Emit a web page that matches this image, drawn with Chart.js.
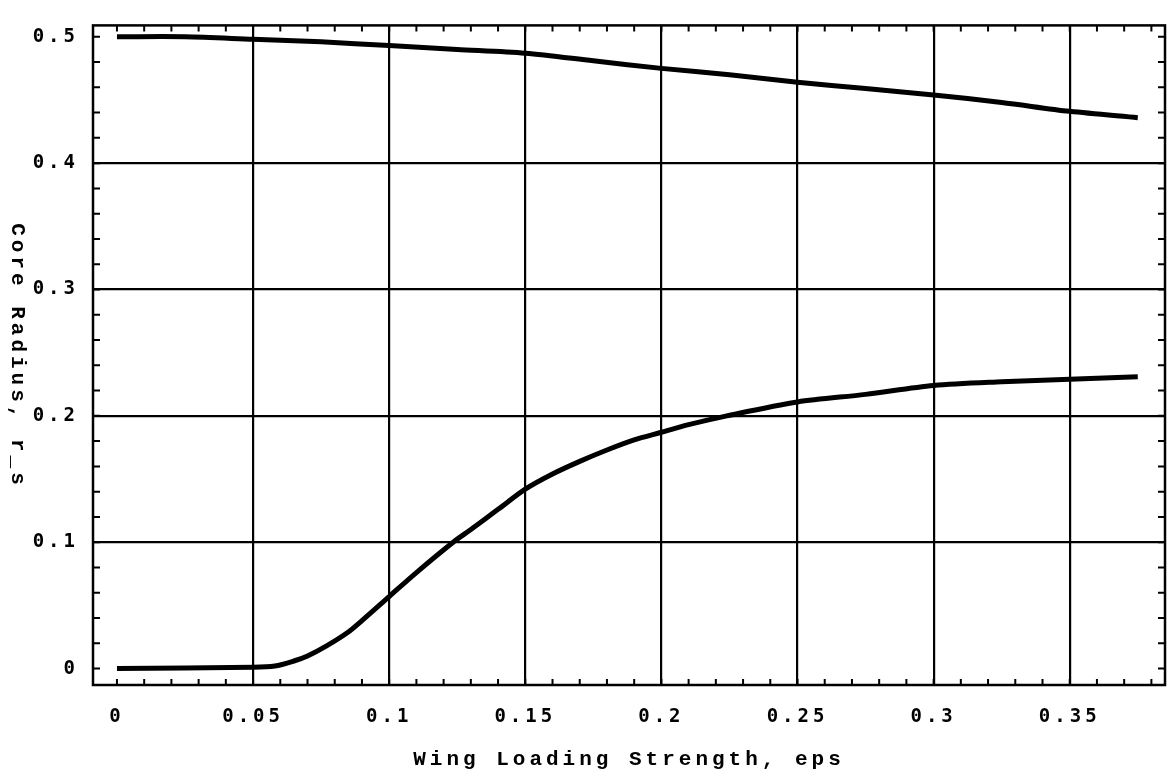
<!DOCTYPE html>
<html>
<head>
<meta charset="utf-8">
<script src="https://cdn.jsdelivr.net/npm/chart.js@4/dist/chart.umd.min.js"></script>
<style>
  html, body { margin: 0; padding: 0; background: #fff; }
  #wrap { width: 1169px; height: 783px; }
</style>
</head>
<body>
<div id="wrap"><canvas id="chart"></canvas></div>
<script>
// values
const upperEps = [0, 0.025, 0.05, 0.075, 0.1, 0.125, 0.15, 0.175, 0.2, 0.225, 0.25, 0.275, 0.3, 0.325, 0.35, 0.375];
const upperRadius = [0.500, 0.500, 0.498, 0.496, 0.493, 0.490, 0.487, 0.481, 0.475, 0.470, 0.464, 0.459, 0.454, 0.448, 0.441, 0.436];

const lowerEps = [0, 0.05, 0.058, 0.065, 0.07, 0.077, 0.085, 0.09, 0.1, 0.11, 0.1235, 0.13, 0.14, 0.15, 0.16, 0.17, 0.18, 0.19, 0.2, 0.21, 0.224, 0.25, 0.275, 0.3, 0.325, 0.35, 0.375];
const lowerRadius = [0, 0.001, 0.002, 0.006, 0.010, 0.018, 0.029, 0.038, 0.057, 0.076, 0.100, 0.110, 0.126, 0.142, 0.154, 0.164, 0.173, 0.181, 0.187, 0.193, 0.200, 0.211, 0.217, 0.224, 0.227, 0.229, 0.231];

const xTitle = 'Wing Loading Strength, eps';
const yTitle = 'Core Radius, r_s';

const pts = (xs, ys) => xs.map((x, i) => ({ x: x, y: ys[i] }));

// frame, inward minor ticks and the top-to-bottom y label
const framePlugin = {
  id: 'frame',
  beforeDraw(chart) {
    chart.ctx.letterSpacing = '4px';
  },
  afterDraw(chart) {
    const c = chart.ctx, a = chart.chartArea;
    const xs = chart.scales.x, ys = chart.scales.y;
    c.save();
    c.strokeStyle = '#000';
    c.lineWidth = 2.5;
    c.strokeRect(a.left, a.top, a.right - a.left, a.bottom - a.top);
    c.lineWidth = 2;
    c.beginPath();
    for (let i = 0; i <= 38; i++) {
      const px = xs.getPixelForValue(i * 0.01);
      c.moveTo(px, a.bottom); c.lineTo(px, a.bottom - 6);
      c.moveTo(px, a.top); c.lineTo(px, a.top + 6);
    }
    for (let i = 0; i <= 25; i++) {
      const py = ys.getPixelForValue(i * 0.02);
      c.moveTo(a.left, py); c.lineTo(a.left + 7, py);
      c.moveTo(a.right, py); c.lineTo(a.right - 7, py);
    }
    c.stroke();

    c.translate(17, 356);
    c.rotate(Math.PI / 2);
    c.fillStyle = '#000';
    c.font = 'bold 21px "Liberation Mono"';
    c.textAlign = 'center';
    c.textBaseline = 'middle';
    c.letterSpacing = '4px';
    c.fillText(yTitle, 0, 0);
    c.restore();
  }
};

const gridColor = (skip) => (ctx) => {
  const v = ctx.tick ? ctx.tick.value : null;
  if (v === null) return '#000';
  return skip.some(s => Math.abs(v - s) < 1e-6) ? 'rgba(0,0,0,0)' : '#000';
};

new Chart(document.getElementById('chart'), {
  type: 'line',
  data: {
    datasets: [
      {
        data: pts(upperEps, upperRadius),
        borderColor: '#000',
        borderWidth: 5,
        pointRadius: 0,
        tension: 0.3,
        fill: false
      },
      {
        data: pts(lowerEps, lowerRadius),
        borderColor: '#000',
        borderWidth: 5,
        pointRadius: 0,
        tension: 0.3,
        fill: false
      }
    ]
  },
  options: {
    responsive: true,
    maintainAspectRatio: false,
    animation: false,
    layout: { padding: { top: 16, right: 4, left: 0, bottom: 0 } },
    plugins: {
      legend: { display: false },
      tooltip: { enabled: false }
    },
    scales: {
      x: {
        type: 'linear',
        min: -0.0088,
        max: 0.385,
        afterFit: (s) => { s.height = 98; },
        border: { display: false },
        grid: { color: gridColor([0]), lineWidth: 2.2, drawTicks: false },
        ticks: {
          stepSize: 0.05,
          includeBounds: false,
          padding: 21,
          color: '#000',
          font: { family: '"DejaVu Sans Mono"', size: 19, weight: 'bold' },
          maxRotation: 0,
          callback: (v) => String(Number(v.toFixed(2)))
        },
        title: {
          display: true,
          text: xTitle,
          color: '#000',
          font: { family: '"Liberation Mono"', size: 21, weight: 'bold' },
          padding: { top: 0, bottom: 11 }
        }
      },
      y: {
        type: 'linear',
        min: -0.013,
        max: 0.509,
        afterFit: (s) => { s.width = 93; },
        border: { display: false },
        grid: { color: gridColor([0, 0.5]), lineWidth: 2.2, drawTicks: false },
        ticks: {
          stepSize: 0.1,
          includeBounds: false,
          padding: 14,
          color: '#000',
          font: { family: '"DejaVu Sans Mono"', size: 19, weight: 'bold' },
          callback: (v) => String(Number(v.toFixed(2)))
        }
      }
    }
  },
  plugins: [framePlugin]
});
</script>
</body>
</html>
